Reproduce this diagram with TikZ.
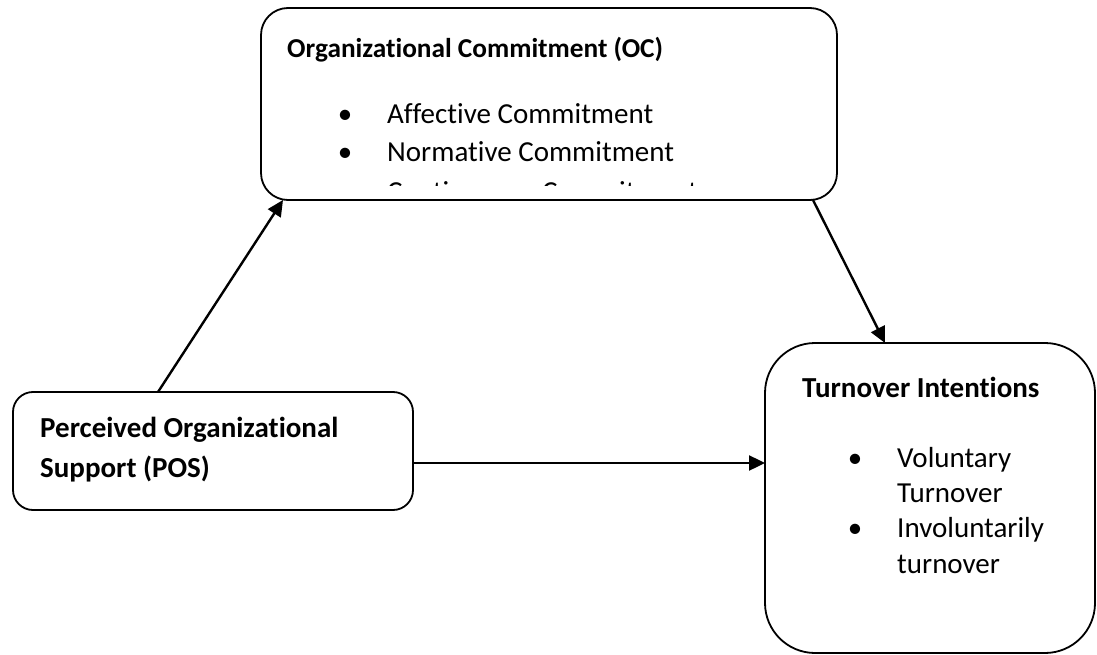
\documentclass[tikz,border=0pt]{standalone}
\usepackage{fontspec}
\setmainfont{Carlito}[Ligatures=NoCommon]
\usetikzlibrary{arrows.meta}
\begin{document}
\begin{tikzpicture}[x=1pt,y=-1pt,
  box/.style={draw,line width=1.8pt,inner sep=0pt,outer sep=0pt,anchor=north west},
  txt/.style={anchor=base west,inner sep=0pt,font=\fontsize{29}{33}\selectfont},
  head/.style={anchor=base west,inner sep=0pt,font=\fontsize{29}{33}\selectfont\bfseries},
  dot/.style={anchor=base,inner sep=0pt,font=\fontsize{29}{33}\selectfont},
  link/.style={line width=2.4pt,-{Triangle[length=16pt,width=15pt]}}]
\useasboundingbox (0,0) rectangle (1097,655);

% the three boxes
\node[box,rounded corners=27pt,minimum width=576pt,minimum height=192pt] (oc) at (261,8) {};
\node[box,rounded corners=20pt,minimum width=400pt,minimum height=118pt] (pos) at (13,392) {};
\node[box,rounded corners=50pt,minimum width=330pt,minimum height=310pt] (ti) at (765,343) {};

% organizational commitment
\node[head,font=\fontsize{27.3}{31}\selectfont\bfseries] (octitle) at (287,58) {Organizational Commitment (OC)};
\node[dot] (ocb1) at (345,124) {\textbullet};
\node[txt] (oc1) at (387,124) {Affective Commitment};
\node[dot] (ocb2) at (345,162) {\textbullet};
\node[txt] (oc2) at (387,162) {Normative Commitment};
\begin{scope}
  \clip ([yshift=14pt]oc.south west) rectangle (oc.north east);
  \node[dot] (ocb3) at (345,201) {\textbullet};
  \node[txt] (oc3) at (387,201) {Continuance Commitment};
\end{scope}

% perceived organizational support
\node[head] (pos1) at (40,437) {Perceived Organizational};
\node[head] (pos2) at (40,477) {Support (POS)};

% turnover intentions
\node[head] (tititle) at (802,397) {Turnover Intentions};
\node[dot] (tib1) at (855,467) {\textbullet};
\node[txt] (ti1) at (897,467) {Voluntary};
\node[txt] (ti2) at (897,502) {Turnover};
\node[dot] (tib2) at (855,537) {\textbullet};
\node[txt] (ti3) at (897,537) {Involuntarily};
\node[txt] (ti4) at (897,573) {turnover};

% paths between the constructs
\draw[link] ([xshift=145pt]pos.north west) -- ([xshift=22pt]oc.south west);
\draw[link] ([xshift=-24pt]oc.south east) -- ([xshift=120pt]ti.north west);
\draw[link] ([yshift=-12pt]pos.east) coordinate (h) -- (h -| ti.west);
\end{tikzpicture}
\end{document}
